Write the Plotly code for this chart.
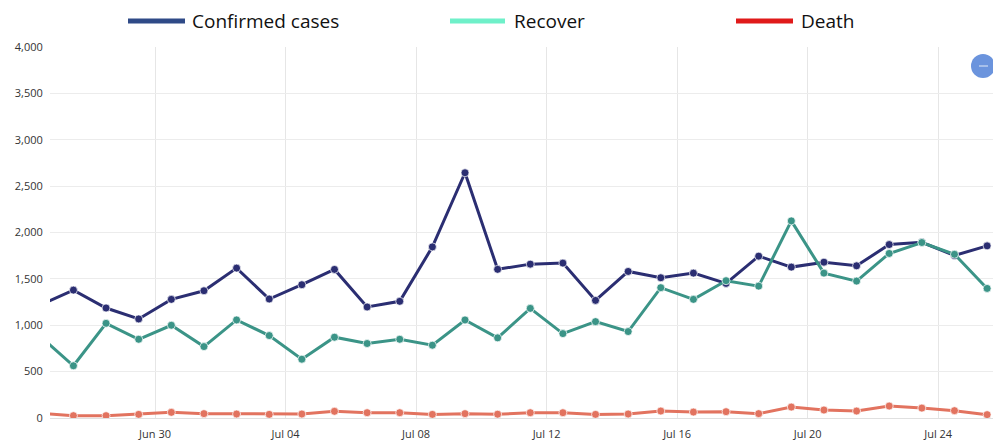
import plotly.graph_objects as go

dates = [
    "2020-06-26 12:00", "2020-06-27 12:00", "2020-06-28 12:00", "2020-06-29 12:00",
    "2020-06-30 12:00", "2020-07-01 12:00", "2020-07-02 12:00", "2020-07-03 12:00",
    "2020-07-04 12:00", "2020-07-05 12:00", "2020-07-06 12:00", "2020-07-07 12:00",
    "2020-07-08 12:00", "2020-07-09 12:00", "2020-07-10 12:00", "2020-07-11 12:00",
    "2020-07-12 12:00", "2020-07-13 12:00", "2020-07-14 12:00", "2020-07-15 12:00",
    "2020-07-16 12:00", "2020-07-17 12:00", "2020-07-18 12:00", "2020-07-19 12:00",
    "2020-07-20 12:00", "2020-07-21 12:00", "2020-07-22 12:00", "2020-07-23 12:00",
    "2020-07-24 12:00", "2020-07-25 12:00",
]
confirmed = [1220, 1379, 1186, 1068, 1279, 1372, 1616, 1283, 1437, 1602,
             1197, 1258, 1845, 2644, 1603, 1659, 1670, 1268, 1580, 1512,
             1562, 1451, 1745, 1627, 1680, 1641, 1870, 1895, 1752, 1856]
recover = [875, 563, 1021, 849, 1000, 770, 1057, 889, 634, 871,
           803, 849, 785, 1057, 864, 1182, 910, 1039, 932, 1405,
           1279, 1480, 1422, 2125, 1562, 1476, 1774, 1892, 1765, 1397]
death = [50, 25, 25, 39, 61, 47, 43, 39, 43, 72,
         57, 57, 39, 47, 41, 57, 57, 39, 43, 75,
         64, 68, 47, 118, 86, 75, 129, 107, 79, 36]

series_names = ["Confirmed cases", "Recover", "Death"]
line_colors = ["#2b2e72", "#3b9487", "#e2735f"]
legend_colors = ["#2f4a87", "#6ff0c9", "#e01a1a"]

W, H = 993, 441
L, R, T, B = 50, 0, 47, 23
pw, ph = W - L - R, H - T - B

def px(x):
    return (x - L) / pw

def py(y):
    return (H - B - y) / ph

fig = go.Figure()
for name, vals, col in zip(series_names, [confirmed, recover, death], line_colors):
    fig.add_trace(go.Scatter(
        x=dates, y=vals, name=name, mode="lines+markers",
        line=dict(color=col, width=3),
        marker=dict(color=col, size=8, line=dict(color="rgba(255,255,255,0.7)", width=1)),
        showlegend=False, cliponaxis=True,
    ))

shapes = []
annotations = []
legend_pos = [(128, 185, 190), (450, 505, 512), (736, 793, 799)]
for (x0, x1, tx), name, col in zip(legend_pos, series_names, legend_colors):
    shapes.append(dict(type="line", xref="paper", yref="paper",
                       x0=px(x0), x1=px(x1), y0=py(21), y1=py(21),
                       line=dict(color=col, width=5)))
    annotations.append(dict(text=name, xref="paper", yref="paper",
                            x=px(tx), y=py(21), xanchor="left", yanchor="middle",
                            showarrow=False,
                            font=dict(family="Open Sans", size=19, color="#111111")))

# zoom-out button
shapes.append(dict(type="circle", xref="paper", yref="paper",
                   x0=px(971), x1=px(995), y0=py(54), y1=py(78),
                   fillcolor="#6b94dd", line=dict(color="#6b94dd", width=0)))
shapes.append(dict(type="line", xref="paper", yref="paper",
                   x0=px(979), x1=px(988), y0=py(66), y1=py(66),
                   line=dict(color="rgba(255,255,255,0.8)", width=1)))

fig.update_layout(
    width=W, height=H,
    margin=dict(l=L, r=R, t=T, b=B, pad=0),
    paper_bgcolor="white", plot_bgcolor="white",
    font=dict(family="Open Sans", color="#444444"),
    shapes=shapes, annotations=annotations,
    showlegend=False,
    xaxis=dict(
        type="date",
        range=["2020-06-26 18:46", "2020-07-25 16:20"],
        tick0="2020-06-30", dtick=4 * 86400000, tickformat="%b %d",
        showgrid=True, gridcolor="#e6e6e6", gridwidth=1,
        zeroline=False, showline=False,
        ticks="outside", ticklen=6, tickcolor="rgba(0,0,0,0)",
        tickfont=dict(size=11, color="#333333"),
    ),
    yaxis=dict(
        range=[0, 4000], dtick=500, tickformat=",",
        showgrid=True, gridcolor="#ececec", gridwidth=1,
        zeroline=True, zerolinecolor="#e0e0e0", zerolinewidth=1,
        showline=False,
        ticks="outside", ticklen=4, tickcolor="rgba(0,0,0,0)",
        tickfont=dict(size=11, color="#333333"),
    ),
)

fig.write_html("out.html", config={"displayModeBar": False},
               post_script="document.body.style.margin='0';document.body.style.overflow='hidden';")
